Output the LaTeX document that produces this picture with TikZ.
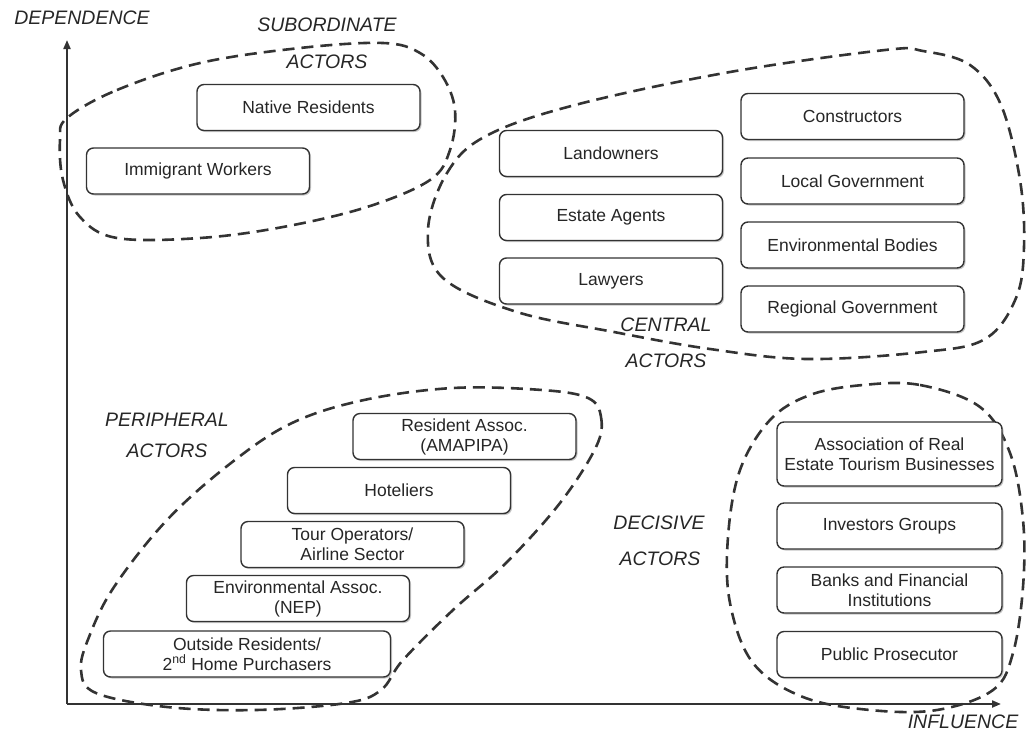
\documentclass[tikz,border=0pt]{standalone}
\usepackage{fontspec}
\setmainfont{Liberation Sans}
\colorlet{ActorLine}{black!80}
\colorlet{ActorText}{black!85}
\usetikzlibrary{shadows, arrows.meta}

\begin{document}
\begin{tikzpicture}[x=1pt, y=-1pt,
  actor/.style={draw=ActorLine, line width=1.4pt, rounded corners=7pt, fill=white,
    minimum width=223pt, minimum height=46pt, align=center, inner sep=1pt,
    font=\fontsize{17.5}{20}\selectfont, text=ActorText,
    drop shadow={shadow xshift=1.5pt, shadow yshift=-1.5pt, opacity=0.45}},
  group/.style={font=\fontsize{19.5}{22}\selectfont\itshape, text=ActorText},
  blob/.style={draw=ActorLine, line width=2.6pt, dash pattern=on 12pt off 7pt}]

\useasboundingbox (0,0) rectangle (1028,732);

% groups
\draw[blob] plot[smooth cycle, tension=0.6] coordinates {
    (67,118) (117,90) (200,63) (300,48) (383,43) (420,53) (443,77) (455,110)
    (450,150) (430,180) (367,207) (283,227) (200,238) (117,238) (80,217)
    (63,180) (60,140)};
\draw[blob] plot[smooth cycle, tension=0.6] coordinates {
    (428,230) (447,173) (486,136) (575,105) (730,72) (885,50) (923,51)
    (970,65) (1001,105) (1020,180) (1024,247) (1016,298) (985,339) (923,352)
    (807,359) (710,349) (614,332) (517,312) (443,278)};
\draw[blob] plot[smooth cycle, tension=0.6] coordinates {
    (588,398) (601,417) (596,447) (560,503) (506,563) (453,610) (403,660)
    (381,690) (346,703) (256,710) (167,707) (96,693) (81,670) (89,637)
    (114,587) (167,520) (231,463) (292,423) (364,400) (453,388) (542,390)};
\draw[blob] plot[smooth cycle, tension=0.6] coordinates {
    (863,385) (920,385) (980,407) (1010,453) (1023,520) (1023,587) (1013,653)
    (993,690) (937,710) (870,710) (803,697) (753,663) (730,603) (728,537)
    (740,470) (770,420) (810,395)};

% axes
\coordinate (O) at (67,704);
\coordinate (Ytop) at (67,40);
\coordinate (Xend) at (1001,704);
\draw[line width=2pt, ActorLine, -{Triangle[length=9pt, width=7pt]}] (O) -- (Ytop);
\draw[line width=2pt, ActorLine, -{Triangle[length=9pt, width=7pt]}] (O) -- (Xend);
\node[group] (dependence) at (82,18) {DEPENDENCE};
\node[group] (influence) at (963,722) {INFLUENCE};

% subordinate actors
\node[group] (subordinate) at (327,25) {SUBORDINATE};
\node[group] (subactors) at (327,62) {ACTORS};
\node[actor] (native) at (308.5,107.5) {Native Residents};
\node[actor] (immigrant) at (198,171) {Immigrant Workers};

% central actors
\node[actor] (landowners) at (611,153.5) {Landowners};
\node[actor] (agents) at (611,217.5) {Estate Agents};
\node[actor] (lawyers) at (611,281) {Lawyers};
\node[actor] (constructors) at (852.5,116.5) {Constructors};
\node[actor] (localgov) at (852.5,181) {Local Government};
\node[actor] (envbodies) at (852.5,245) {Environmental Bodies};
\node[actor] (regionalgov) at (852.5,309) {Regional Government};
\node[group] (central) at (666,325) {CENTRAL};
\node[group] (centactors) at (666,361) {ACTORS};

% peripheral actors
\node[group] (peripheral) at (167,420) {PERIPHERAL};
\node[group] (periactors) at (167,451) {ACTORS};
\node[actor] (residentassoc) at (464.5,436.5) {Resident Assoc.\\(AMAPIPA)};
\node[actor] (hoteliers) at (399,490.5) {Hoteliers};
\node[actor] (tourops) at (352.5,544.5) {Tour Operators/\\Airline Sector};
\node[actor] (envassoc) at (298,598.5) {Environmental Assoc.\\(NEP)};
\node[actor, minimum width=287pt] (outside) at (247,654)
    {Outside Residents/\\2\textsuperscript{nd} Home Purchasers};

% decisive actors
\node[group] (decisive) at (659,523) {DECISIVE};
\node[group] (deciactors) at (660,559) {ACTORS};
\node[actor, minimum width=225pt, minimum height=64pt] (realestate) at (889.5,454)
    {Association of Real\\Estate Tourism Businesses};
\node[actor, minimum width=225pt] (investors) at (889.5,526) {Investors Groups};
\node[actor, minimum width=225pt] (banks) at (889.5,590) {Banks and Financial\\Institutions};
\node[actor, minimum width=225pt] (prosecutor) at (889.5,654.5) {Public Prosecutor};

\end{tikzpicture}
\end{document}
